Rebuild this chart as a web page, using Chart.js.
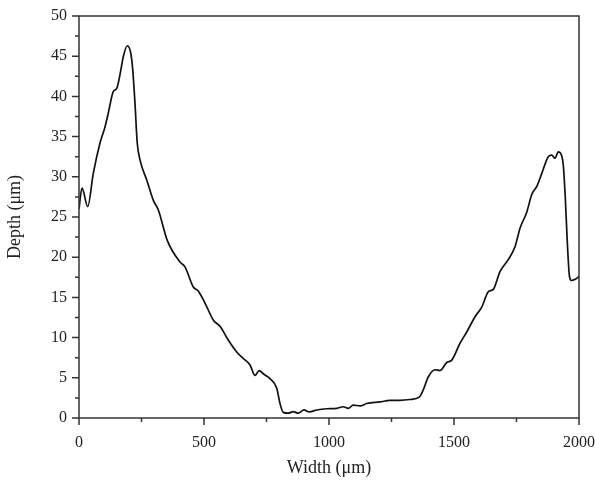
<!DOCTYPE html>
<html>
<head>
<meta charset="utf-8">
<script src="https://cdn.jsdelivr.net/npm/chart.js@4"></script>
<style>
  body { margin: 0; background: #fff; }
  canvas { display: block; }
</style>
</head>
<body>
<canvas id="profil" width="595" height="486"></canvas>
<script>
// profile
const widths = [0, 12, 35, 57, 84, 104, 117, 137, 151, 164, 177, 193, 207, 215, 224, 233, 244, 271, 297, 317, 353,
    404, 424, 457, 477, 504, 537, 564, 597, 631, 657, 684, 704, 721, 737, 764, 791, 804, 817, 837, 857, 877, 900, 921, 951,
    991, 1031, 1057, 1077, 1097, 1124, 1151, 1204, 1244, 1284, 1324, 1361, 1377, 1397, 1424, 1444, 1471, 1491, 1524,
    1551, 1584, 1611, 1637, 1657, 1684, 1717, 1744, 1764, 1791, 1811, 1831, 1851, 1877, 1891, 1904, 1917, 1927, 1937,
    1945, 1953, 1962, 1970, 1987, 2000];
const depths = [26.0, 28.6, 26.3, 30.4, 34.2, 36.2, 37.9, 40.6, 41.0, 42.7, 44.9, 46.3, 45.4, 43.3, 39.1, 34.2, 32.1, 29.6, 27.1, 25.9, 22.1,
    19.4, 18.8, 16.3, 15.8, 14.3, 12.2, 11.4, 9.7, 8.2, 7.4, 6.6, 5.3, 5.9, 5.5, 4.9, 3.7, 1.8, 0.7, 0.6, 0.8, 0.6, 1.0, 0.75, 1.0,
    1.15, 1.2, 1.4, 1.2, 1.6, 1.5, 1.8, 2.0, 2.2, 2.2, 2.3, 2.6, 3.5, 5.1, 6.0, 5.9, 6.9, 7.2, 9.3,
    10.7, 12.6, 13.8, 15.7, 16.0, 18.2, 19.7, 21.3, 23.6, 25.6, 27.8, 28.8, 30.4, 32.5, 32.7, 32.3, 33.1, 32.9, 31.5,
    27.5, 22.0, 17.6, 17.1, 17.3, 17.6];

const xTicks = [0, 250, 500, 750, 1000, 1250, 1500, 1750, 2000];
const yTicks = [0, 2.5, 5, 7.5, 10, 12.5, 15, 17.5, 20, 22.5, 25, 27.5, 30, 32.5, 35, 37.5, 40, 42.5, 45, 47.5, 50];

const axisCol = '#333';
const serif = 'Liberation Serif, Times New Roman, serif';

// frame + ticks outside, major & minor
const rahmen = {
    id: 'rahmen',
    afterDraw(chart) {
        const ctx = chart.ctx;
        const a = chart.chartArea;
        const sx = chart.scales.x, sy = chart.scales.y;
        ctx.save();
        ctx.strokeStyle = axisCol;
        ctx.lineWidth = 1.5;
        ctx.strokeRect(a.left, a.top, a.right - a.left, a.bottom - a.top);
        ctx.beginPath();
        xTicks.forEach(v => {
            const px = sx.getPixelForValue(v);
            const len = v % 500 === 0 ? 7 : 4;
            ctx.moveTo(px, a.bottom);
            ctx.lineTo(px, a.bottom + len);
        });
        yTicks.forEach(v => {
            const py = sy.getPixelForValue(v);
            const len = v % 5 === 0 ? 7 : 4;
            ctx.moveTo(a.left, py);
            ctx.lineTo(a.left - len, py);
        });
        ctx.stroke();
        ctx.restore();
    }
};

new Chart(document.getElementById('profil'), {
    type: 'line',
    data: {
        datasets: [{
            data: widths.map((w, i) => ({ x: w, y: depths[i] })),
            borderColor: '#111',
            borderWidth: 1.7,
            pointRadius: 0,
            cubicInterpolationMode: 'monotone',
            fill: false
        }]
    },
    options: {
        responsive: false,
        animation: false,
        layout: { padding: { top: 16, right: 16, left: 0, bottom: 0 } },
        plugins: { legend: { display: false }, tooltip: { enabled: false } },
        scales: {
            x: {
                type: 'linear',
                min: 0, max: 2000,
                grid: { display: false },
                border: { display: false },
                ticks: {
                    stepSize: 500, padding: 7, color: '#222',
                    font: { family: serif, size: 16 },
                    callback: v => String(v)
                },
                title: {
                    display: true, text: 'Width (μm)', color: '#222',
                    font: { family: serif, size: 18 },
                    padding: { top: 0, bottom: 7 }
                },
                afterFit(s) { s.height = 68; s.paddingLeft = 0; s.paddingRight = 0; }
            },
            y: {
                min: 0, max: 50,
                grid: { display: false },
                border: { display: false },
                ticks: { stepSize: 5, padding: 4, color: '#222', font: { family: serif, size: 16 } },
                title: {
                    display: true, text: 'Depth (μm)', color: '#222',
                    font: { family: serif, size: 18 },
                    padding: { top: 4, bottom: 0 }
                },
                afterFit(s) { s.width = 79; s.paddingTop = 0; s.paddingBottom = 0; }
            }
        }
    },
    plugins: [rahmen]
});
</script>
</body>
</html>
